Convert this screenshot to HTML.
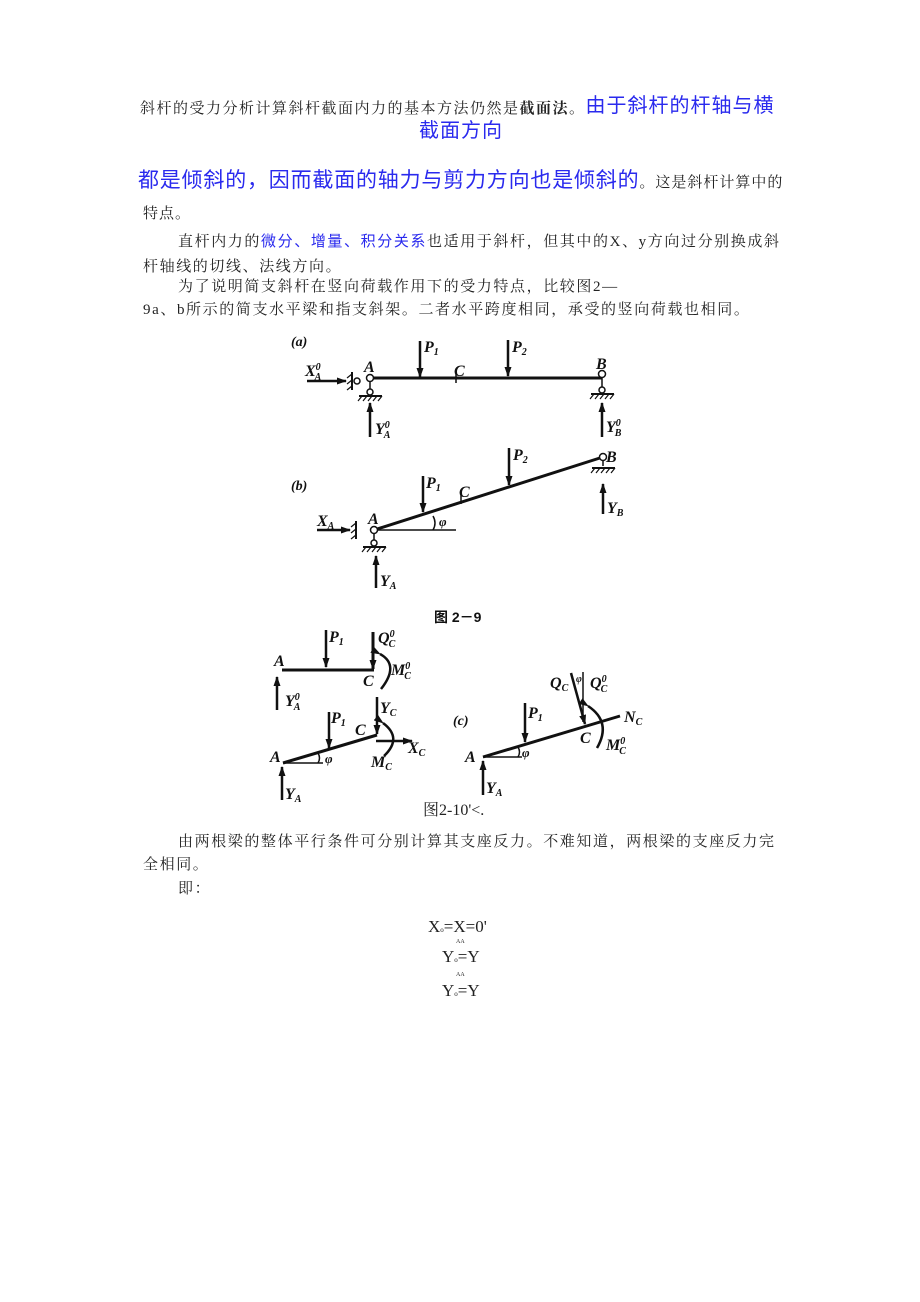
<!DOCTYPE html>
<html><head><meta charset="utf-8">
<style>
html,body{margin:0;padding:0;background:#fff;}
body{width:920px;height:1302px;position:relative;overflow:hidden;font-family:"Liberation Serif","Noto Serif CJK SC","Noto Sans CJK SC",serif;color:#222;}
.t{position:absolute;white-space:nowrap;font-size:15px;line-height:1;}
.b{color:#2a2aee;font-family:"Liberation Sans","Noto Sans CJK SC",sans-serif;}
svg{position:absolute;left:0;top:0;}
svg text{font-family:"Liberation Serif",serif;font-style:italic;font-weight:bold;fill:#111;}
</style></head><body>
<div class="t" style="left:140px;top:97px;letter-spacing:1.5px;">斜杆的受力分析计算斜杆截面内力的基本方法仍然是<b>截面法</b>。<span class="b" style="font-size:20px;letter-spacing:1px;position:relative;top:-1px;">由于斜杆的杆轴与横</span></div>
<div class="t b" style="left:419px;top:121px;font-size:20px;letter-spacing:1px;">截面方向</div>
<div class="t" style="left:138px;top:170px;"><span class="b" style="font-size:21px;letter-spacing:0.8px;">都是倾斜的，因而截面的轴力与剪力方向也是倾斜的</span><span style="letter-spacing:1px;">。这是斜杆计算中的</span></div>
<div class="t" style="left:143px;top:207px;letter-spacing:1px;">特点。</div>
<div class="t" style="left:178px;top:234px;letter-spacing:1.6px;">直杆内力的<span class="b" style="font-size:15px">微分、增量、积分关系</span>也适用于斜杆，但其中的X、y方向过分别换成斜</div>
<div class="t" style="left:143px;top:260px;letter-spacing:1.6px;">杆轴线的切线、法线方向。</div>
<div class="t" style="left:178px;top:280px;letter-spacing:1.6px;">为了说明简支斜杆在竖向荷载作用下的受力特点，比较图2—</div>
<div class="t" style="left:143px;top:303px;letter-spacing:1.6px;">9a、b所示的简支水平梁和指支斜架。二者水平跨度相同，承受的竖向荷载也相同。</div>

<svg width="920" height="1302" viewBox="0 0 920 1302">
<defs><marker id="ar" markerWidth="10" markerHeight="10" refX="9" refY="5" orient="auto" markerUnits="userSpaceOnUse"><path d="M0,1.5 L10,5 L0,8.5 z" fill="#111"/></marker></defs>
<g stroke="#111" fill="none">
<line x1="370" y1="378" x2="602" y2="378" stroke-width="3"/>
<line x1="307" y1="381" x2="346" y2="381" stroke-width="2.5" marker-end="url(#ar)"/>
<circle cx="357" cy="381" r="3" fill="#fff" stroke-width="1.5"/>
<line x1="352" y1="372" x2="352" y2="390" stroke-width="2"/>
<path d="M352,374 l-5,4 M352,380 l-5,4 M352,386 l-5,4" stroke-width="1.2"/>
<circle cx="370" cy="378" r="3.5" fill="#fff" stroke-width="1.5"/>
<line x1="370" y1="382" x2="370" y2="390" stroke-width="1.5"/>
<circle cx="370" cy="392" r="3" fill="#fff" stroke-width="1.5"/>
<line x1="359" y1="396" x2="382" y2="396" stroke-width="2"/>
<path d="M362,396 l-4,5 M367,396 l-4,5 M372,396 l-4,5 M377,396 l-4,5 M382,396 l-4,5" stroke-width="1.2"/>
<line x1="370" y1="437" x2="370" y2="403" stroke-width="2.5" marker-end="url(#ar)"/>
<line x1="420" y1="341" x2="420" y2="377" stroke-width="2.5" marker-end="url(#ar)"/>
<line x1="456" y1="373" x2="456" y2="383" stroke-width="1.5"/>
<line x1="508" y1="340" x2="508" y2="376" stroke-width="2.5" marker-end="url(#ar)"/>
<circle cx="602" cy="374" r="3.5" fill="#fff" stroke-width="1.5"/>
<line x1="602" y1="378" x2="602" y2="388" stroke-width="1.5"/>
<circle cx="602" cy="390" r="3" fill="#fff" stroke-width="1.5"/>
<line x1="591" y1="394" x2="614" y2="394" stroke-width="2"/>
<path d="M594,394 l-4,5 M599,394 l-4,5 M604,394 l-4,5 M609,394 l-4,5 M614,394 l-4,5" stroke-width="1.2"/>
<line x1="602" y1="437" x2="602" y2="403" stroke-width="2.5" marker-end="url(#ar)"/>
<line x1="374" y1="530" x2="603" y2="457" stroke-width="3"/>
<line x1="374" y1="530" x2="456" y2="530" stroke-width="1.5"/>
<path d="M433,516 Q437,523 433,530" stroke-width="1.5"/>
<line x1="317" y1="530" x2="350" y2="530" stroke-width="2.5" marker-end="url(#ar)"/>
<line x1="356" y1="521" x2="356" y2="539" stroke-width="2"/>
<path d="M356,523 l-5,4 M356,529 l-5,4 M356,535 l-5,4" stroke-width="1.2"/>
<circle cx="374" cy="530" r="3.5" fill="#fff" stroke-width="1.5"/>
<line x1="374" y1="534" x2="374" y2="541" stroke-width="1.5"/>
<circle cx="374" cy="543" r="3" fill="#fff" stroke-width="1.5"/>
<line x1="363" y1="547" x2="386" y2="547" stroke-width="2"/>
<path d="M366,547 l-4,5 M371,547 l-4,5 M376,547 l-4,5 M381,547 l-4,5 M386,547 l-4,5" stroke-width="1.2"/>
<line x1="376" y1="588" x2="376" y2="556" stroke-width="2.5" marker-end="url(#ar)"/>
<line x1="423" y1="476" x2="423" y2="512" stroke-width="2.5" marker-end="url(#ar)"/>
<line x1="461" y1="494" x2="461" y2="504" stroke-width="1.5"/>
<line x1="509" y1="448" x2="509" y2="485" stroke-width="2.5" marker-end="url(#ar)"/>
<circle cx="603" cy="457" r="3.5" fill="#fff" stroke-width="1.5"/>
<line x1="603" y1="461" x2="603" y2="466" stroke-width="1.5"/>
<line x1="592" y1="468" x2="615" y2="468" stroke-width="2"/>
<path d="M595,468 l-4,5 M600,468 l-4,5 M605,468 l-4,5 M610,468 l-4,5 M615,468 l-4,5" stroke-width="1.2"/>
<line x1="603" y1="514" x2="603" y2="484" stroke-width="2.5" marker-end="url(#ar)"/>
<line x1="282" y1="670" x2="374" y2="670" stroke-width="3"/>
<line x1="373" y1="632" x2="373" y2="669" stroke-width="3" marker-end="url(#ar)"/>
<line x1="326" y1="630" x2="326" y2="667" stroke-width="2.5" marker-end="url(#ar)"/>
<line x1="277" y1="710" x2="277" y2="677" stroke-width="2.5" marker-end="url(#ar)"/>
<path d="M380,654 Q400,665 381,689" stroke-width="2.5" marker-start="url(#ar)"/>
<line x1="283" y1="763" x2="377" y2="735" stroke-width="3"/>
<line x1="283" y1="763" x2="323" y2="763" stroke-width="1.5"/>
<path d="M318,753 Q321,758 318,763" stroke-width="1.5"/>
<line x1="329" y1="712" x2="329" y2="748" stroke-width="2.5" marker-end="url(#ar)"/>
<line x1="377" y1="697" x2="377" y2="734" stroke-width="2.5" marker-end="url(#ar)"/>
<line x1="376" y1="741" x2="412" y2="741" stroke-width="2.5" marker-end="url(#ar)"/>
<path d="M383,723 Q403,738 384,756" stroke-width="2.5" marker-start="url(#ar)"/>
<line x1="282" y1="800" x2="282" y2="767" stroke-width="2.5" marker-end="url(#ar)"/>
<line x1="483" y1="757" x2="620" y2="716" stroke-width="3"/>
<line x1="483" y1="757" x2="522" y2="757" stroke-width="1.5"/>
<path d="M518,747 Q521,752 518,757" stroke-width="1.5"/>
<line x1="525" y1="703" x2="525" y2="742" stroke-width="2.5" marker-end="url(#ar)"/>
<line x1="571" y1="673" x2="585" y2="724" stroke-width="2.5" marker-end="url(#ar)"/>
<line x1="583" y1="672" x2="583" y2="722" stroke-width="1.5"/>
<path d="M588,706 Q612,722 597,748" stroke-width="2.5" marker-start="url(#ar)"/>
<line x1="483" y1="795" x2="483" y2="761" stroke-width="2.5" marker-end="url(#ar)"/>
</g>
<g font-size="16">
<text x="291" y="346" font-size="14">(a)</text>
<text x="305" y="376">X<tspan font-size="10" dy="-6">0</tspan><tspan font-size="10" dx="-6" dy="10">A</tspan></text>
<text x="364" y="372">A</text>
<text x="424" y="352">P<tspan font-size="10" dy="3">1</tspan></text>
<text x="454" y="376">C</text>
<text x="512" y="352">P<tspan font-size="10" dy="3">2</tspan></text>
<text x="596" y="369">B</text>
<text x="375" y="434">Y<tspan font-size="10" dy="-6">0</tspan><tspan font-size="10" dx="-6" dy="10">A</tspan></text>
<text x="606" y="432">Y<tspan font-size="10" dy="-6">0</tspan><tspan font-size="10" dx="-6" dy="10">B</tspan></text>
<text x="291" y="490" font-size="14">(b)</text>
<text x="317" y="526">X<tspan font-size="10" dy="3">A</tspan></text>
<text x="368" y="524">A</text>
<text x="426" y="488">P<tspan font-size="10" dy="3">1</tspan></text>
<text x="459" y="497">C</text>
<text x="513" y="460">P<tspan font-size="10" dy="3">2</tspan></text>
<text x="606" y="462">B</text>
<text x="439" y="526" font-size="13">φ</text>
<text x="380" y="586">Y<tspan font-size="10" dy="3">A</tspan></text>
<text x="607" y="513">Y<tspan font-size="10" dy="3">B</tspan></text>
<text x="434" y="622" font-size="14" style="font-style:normal;font-family:'Liberation Sans','Noto Sans CJK SC',sans-serif">图 2－9</text>
<text x="329" y="642">P<tspan font-size="10" dy="3">1</tspan></text>
<text x="378" y="643">Q<tspan font-size="10" dy="-6">0</tspan><tspan font-size="10" dx="-6" dy="10">C</tspan></text>
<text x="274" y="666">A</text>
<text x="363" y="686">C</text>
<text x="391" y="675">M<tspan font-size="10" dy="-6">0</tspan><tspan font-size="10" dx="-6" dy="10">C</tspan></text>
<text x="285" y="706">Y<tspan font-size="10" dy="-6">0</tspan><tspan font-size="10" dx="-6" dy="10">A</tspan></text>
<text x="331" y="723">P<tspan font-size="10" dy="3">1</tspan></text>
<text x="380" y="713">Y<tspan font-size="10" dy="3">C</tspan></text>
<text x="355" y="735">C</text>
<text x="270" y="762">A</text>
<text x="325" y="763" font-size="13">φ</text>
<text x="408" y="753">X<tspan font-size="10" dy="3">C</tspan></text>
<text x="371" y="767">M<tspan font-size="10" dy="3">C</tspan></text>
<text x="285" y="799">Y<tspan font-size="10" dy="3">A</tspan></text>
<text x="453" y="725" font-size="14">(c)</text>
<text x="528" y="718">P<tspan font-size="10" dy="3">1</tspan></text>
<text x="550" y="688">Q<tspan font-size="10" dy="3">C</tspan></text>
<text x="576" y="682" font-size="10">φ</text>
<text x="590" y="688">Q<tspan font-size="10" dy="-6">0</tspan><tspan font-size="10" dx="-6" dy="10">C</tspan></text>
<text x="624" y="722">N<tspan font-size="10" dy="3">C</tspan></text>
<text x="580" y="743">C</text>
<text x="606" y="750">M<tspan font-size="10" dy="-6">0</tspan><tspan font-size="10" dx="-6" dy="10">C</tspan></text>
<text x="465" y="762">A</text>
<text x="522" y="757" font-size="13">φ</text>
<text x="486" y="793">Y<tspan font-size="10" dy="3">A</tspan></text>
</g>
</svg>

<div class="t" style="left:423px;top:803px;font-size:16px;">图2-10'&lt;.</div>
<div class="t" style="left:178px;top:835px;letter-spacing:1.6px;">由两根梁的整体平行条件可分别计算其支座反力。不难知道，两根梁的支座反力完</div>
<div class="t" style="left:143px;top:858px;letter-spacing:1.6px;">全相同。</div>
<div class="t" style="left:178px;top:882px;letter-spacing:1.6px;">即：</div>
<div class="t" style="left:428px;top:918px;font-size:17px;">X<span style="font-size:7px">o</span>=X=0'</div>
<div class="t" style="left:456px;top:939px;font-size:6px;">AA</div>
<div class="t" style="left:442px;top:948px;font-size:17px;">Y<span style="font-size:7px">o</span>=Y</div>
<div class="t" style="left:456px;top:972px;font-size:6px;">AA</div>
<div class="t" style="left:442px;top:982px;font-size:17px;">Y<span style="font-size:7px">o</span>=Y</div>
</body></html>
